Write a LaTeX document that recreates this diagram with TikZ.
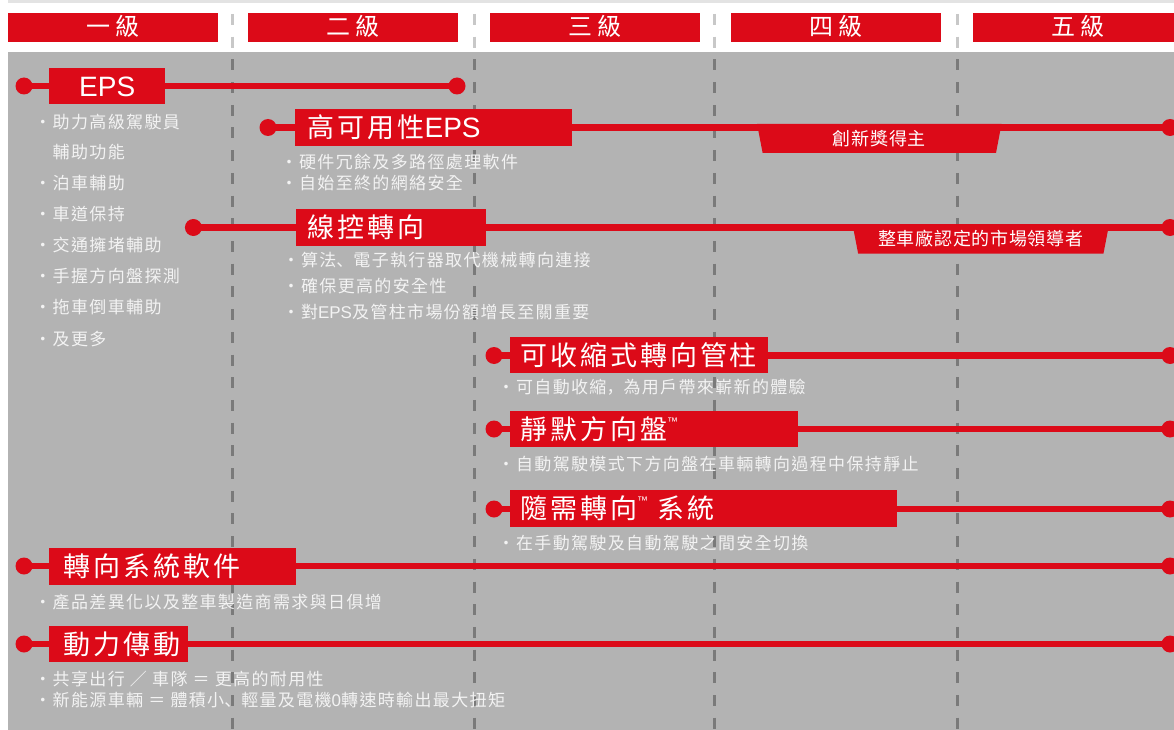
\documentclass[tikz,border=0pt]{standalone}
\usepackage{fontspec}
\usetikzlibrary{shapes.geometric}
\newfontfamily\cjkbody[LetterSpace=8]{Noto Sans CJK TC}
\newfontfamily\cjkbodyjp[LetterSpace=8]{Noto Sans CJK JP}
\newfontfamily\cjktitle[LetterSpace=11]{Noto Sans CJK TC}
\newfontfamily\cjkhead[LetterSpace=20]{Noto Sans CJK TC}
\newfontfamily\cjkbadge[LetterSpace=4]{Noto Sans CJK TC}
\newfontfamily\latf{Liberation Sans}
\definecolor{brand}{RGB}{220,10,24}
\definecolor{panel}{RGB}{179,179,179}
\definecolor{dashdark}{RGB}{122,122,122}
\definecolor{dashlight}{RGB}{200,200,200}
\definecolor{topstrip}{RGB}{227,227,227}
\definecolor{bodytext}{RGB}{243,243,243}
\newcommand{\tmark}{{\latf\fontsize{11}{11}\selectfont\raisebox{14pt}{™}}}
\newcommand{\jp}[1]{{\cjkbodyjp #1}}
\tikzset{
  hbar/.style={fill=brand, minimum width=210pt, minimum height=29pt, inner sep=0pt},
  htext/.style={text=white, inner sep=0pt, text height=19.9pt, text depth=1.7pt,
    font=\cjkhead\fontsize{24}{24}\selectfont},
  tbox/.style={fill=brand, text=white, anchor=west, minimum height=36.5pt,
    inner sep=0pt, text height=22.4pt, text depth=1.9pt, align=left,
    font=\cjktitle\fontsize{27}{27}\selectfont},
  dotnode/.style={circle, fill=brand, minimum size=17pt, inner sep=0pt},
  rline/.style={draw=brand, line width=6.5pt},
  badge/.style={trapezium, shape border rotate=180, trapezium stretches body,
    trapezium angle=71, fill=brand, inner sep=0pt, minimum height=29pt,
    text=white, text height=14.9pt, text depth=1.3pt,
    font=\cjkbadge\fontsize{18}{18}\selectfont},
  btext/.style={anchor=base west, inner sep=0pt, text=bodytext,
    font=\cjkbody\fontsize{17}{17}\selectfont},
  divline/.style={line width=3pt, dash pattern=on 11pt off 11.7pt},
}
\begin{document}
\begin{tikzpicture}[x=1pt,y=-1pt]
\useasboundingbox (0,0) rectangle (1174,730);
\begin{scope}
\clip (0,0) rectangle (1174,730);
% background
\fill[white] (0,0) rectangle (1174,730);
\fill[topstrip] (8,0) rectangle (1174,3);
\fill[panel] (8,52) rectangle (1174,730);
% header bars
\node[hbar] (h1) at (113,27.5) {};
\node[hbar] (h2) at (353,27.5) {};
\node[hbar] (h3) at (595,27.5) {};
\node[hbar] (h4) at (836,27.5) {};
\node[hbar] (h5) at (1078,27.5) {};
\node[htext] (t1) at (113,26) {一級};
\node[htext] (t2) at (353,26) {二級};
\node[htext] (t3) at (595,26) {三級};
\node[htext] (t4) at (836,26) {四級};
\node[htext] (t5) at (1078,26) {五級};
% dashed dividers
\foreach \dx/\nm in {232/a,474/b,714/c,957/d} {
  \coordinate (dt\nm) at (\dx,14);
  \coordinate (db\nm) at (\dx,730);
  \draw[divline, dashlight] (dt\nm) -- (db\nm);
}
\begin{scope}
\clip (8,52) rectangle (1174,730);
\foreach \nm in {a,b,c,d} {
  \draw[divline, dashdark] (dt\nm) -- (db\nm);
}
\end{scope}
% dots
\node[dotnode] (l1) at (24,86) {};
\node[dotnode] (r1) at (457,86) {};
\node[dotnode] (l2) at (268,127.5) {};
\node[dotnode] (r2) at (1170,127.5) {};
\node[dotnode] (l3) at (193.4,227.5) {};
\node[dotnode] (r3) at (1170,227.5) {};
\node[dotnode] (l4) at (494,355.5) {};
\node[dotnode] (r4) at (1170,355.5) {};
\node[dotnode] (l5) at (494,429) {};
\node[dotnode] (r5) at (1170,429) {};
\node[dotnode] (l6) at (494,509) {};
\node[dotnode] (r6) at (1170,509) {};
\node[dotnode] (l7) at (24,566) {};
\node[dotnode] (r7) at (1170,566) {};
\node[dotnode] (l8) at (24,644) {};
\node[dotnode] (r8) at (1170,644) {};
% lines
\foreach \i in {1,...,8} {
  \draw[rline] (l\i.center) -- (r\i.center);
}
% badges
\node[badge, minimum width=244.5pt] (b1) at (879.3,138.5) {創新獎得主};
\node[badge, minimum width=256.5pt] (b2) at (980.8,239) {整車廠認定的市場領導者};
% title boxes
\node[tbox, minimum width=116pt, align=center, font=\latf\fontsize{28}{28}\selectfont] (eps) at (49,86) {EPS};
\node[tbox, text width=277pt] (hae) at (295,127.5) {\hspace*{12.5pt}高可用性{\latf\fontsize{28}{28}\selectfont EPS}};
\node[tbox, text width=190pt] (sbw) at (296,227.5) {\hspace*{11pt}線控轉向};
\node[tbox, text width=258pt] (col) at (510,355) {\hspace*{10pt}可收縮式轉向管柱};
\node[tbox, text width=288pt] (qsw) at (510,429) {\hspace*{10pt}靜默方向盤\tmark};
\node[tbox, text width=387pt] (sod) at (510,508.5) {\hspace*{10pt}隨需轉向\tmark\ 系統};
\node[tbox, text width=247pt] (sw) at (49,566.5) {\hspace*{14pt}轉向系統軟件};
\node[tbox, text width=139pt] (dl) at (49,644) {\hspace*{14pt}動力傳動};
% bullet texts
\node[btext] (e1) at (34.2,128.6) {・助力高級駕駛員};
\node[btext] (e2) at (52.5,158.6) {輔助功能};
\node[btext] (e3) at (34.2,189.6) {・泊車輔助};
\node[btext] (e4) at (34.2,220.6) {・車道保持};
\node[btext] (e5) at (34.2,251.6) {・交通擁堵輔助};
\node[btext] (e6) at (34.2,282.1) {・手握方向盤探測};
\node[btext] (e7) at (34.2,313.6) {・拖車倒車輔助};
\node[btext] (e8) at (34.2,345.6) {・及更多};
\node[btext] (h1a) at (280.5,168.1) {・硬件冗餘及多路徑處理軟件};
\node[btext] (h1b) at (280.5,189.6) {・自始至終的網絡安全};
\node[btext] (s1a) at (282.5,266.6) {・算法\jp{、}電子執行器取代機械轉向連接};
\node[btext] (s1b) at (282.5,292.6) {・確保更高的安全性};
\node[btext] (s1c) at (282.5,318.1) {・對{\latf EPS}及管柱市場份額增長至關重要};
\node[btext] (c1a) at (497.5,393.6) {・可自動收縮\jp{，}為用戶帶來嶄新的體驗};
\node[btext] (q1a) at (497.5,470.1) {・自動駕駛模式下方向盤在車輛轉向過程中保持靜止};
\node[btext] (o1a) at (497.5,549.6) {・在手動駕駛及自動駕駛之間安全切換};
\node[btext] (w1a) at (34.2,608.6) {・產品差異化以及整車製造商需求與日俱增};
\node[btext] (d1a) at (34.2,685.6) {・共享出行 ／ 車隊 ＝ 更高的耐用性};
\node[btext] (d1b) at (34.2,706.6) {・新能源車輛 ＝ 體積小\jp{、}輕量及電機{\latf 0}轉速時輸出最大扭矩};
\end{scope}
\end{tikzpicture}
\end{document}
